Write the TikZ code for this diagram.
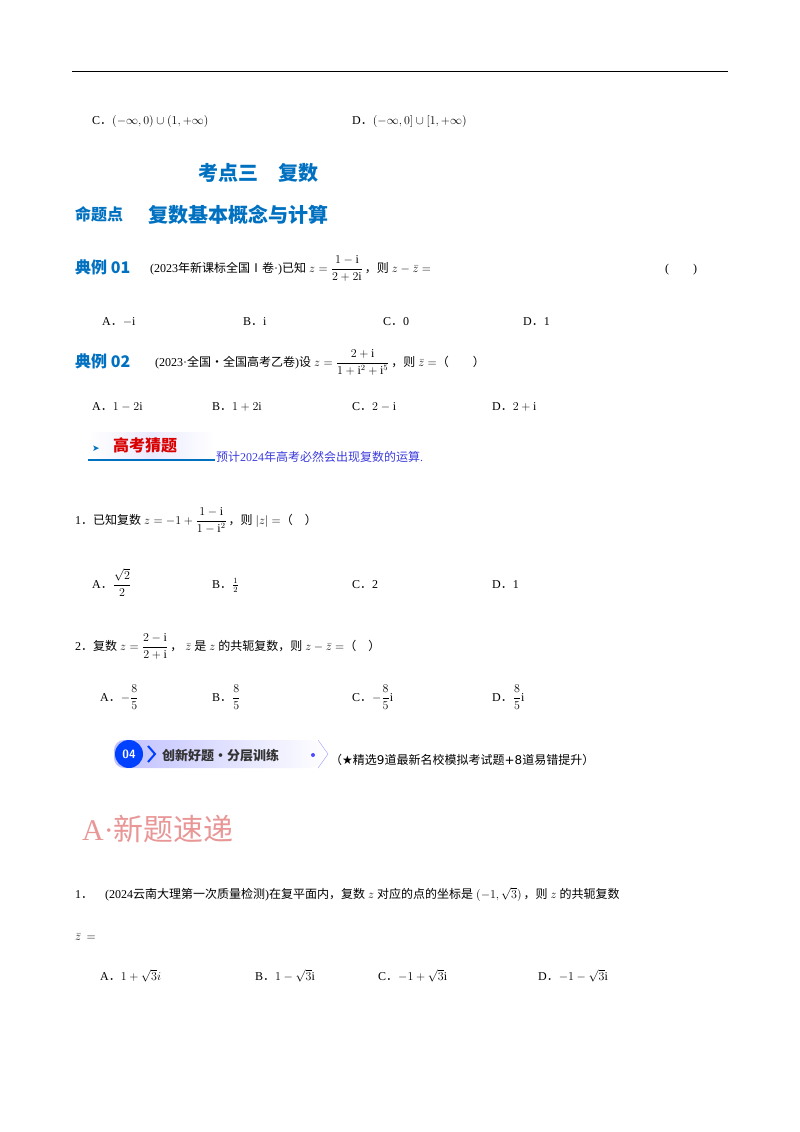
\documentclass[tikz,border=0pt]{standalone}
\usepackage{fontspec}
\usepackage{amsmath}
\setmainfont{Liberation Serif}
\newfontfamily\cjk{Noto Sans CJK SC}
\newfontfamily\djv{DejaVu Sans}
\definecolor{tblue}{RGB}{0,112,192}
\definecolor{pinkred}{RGB}{232,150,150}
\definecolor{gblue}{RGB}{60,60,220}
\tikzset{t/.style={anchor=base west,inner sep=0pt,font=\fontsize{12}{14}\selectfont},
hd/.style={anchor=base west,inner sep=0pt,text=tblue,font=\fontsize{16}{18}\selectfont\cjk\bfseries}}
\newcommand{\zh}[1]{{\cjk #1}}
\newcommand{\fd}{{\cjk ．}}
\begin{document}
\begin{tikzpicture}[x=1pt,y=-1pt]
\useasboundingbox (0,0) rectangle (800,1132);
\draw[line width=1pt] (72,72) -- (728,72);
\node[t] (c1) at (92,124) {C\fd$(-\infty,0)\cup(1,+\infty)$};
\node[t] (d1) at (352,124) {D\fd$(-\infty,0]\cup[1,+\infty)$};
\node[hd,font=\fontsize{20}{22}\selectfont\cjk\bfseries] (k3) at (198,180) {考点三\quad 复数};
\node[hd] (mt) at (75,220) {命题点};
\node[hd,font=\fontsize{20}{22}\selectfont\cjk\bfseries] (mt2) at (148,222) {复数基本概念与计算};
\node[hd] (e1) at (75,273) {典例 01};
\node[t] (e1t) at (150,272) {(2023\zh{年新课标全国Ⅰ卷}·)\zh{已知} $z=\dfrac{1-\mathrm i}{2+2\mathrm i}$\,\zh{，则} $z-\bar z=$};
\node[t] (e1p) at (665,272) {(\qquad)};
\node[t] (a1) at (102,325) {A\fd$-\mathrm i$};
\node[t] (b1) at (243,325) {B\fd$\mathrm i$};
\node[t] (cc1) at (383,325) {C\fd 0};
\node[t] (dd1) at (523,325) {D\fd 1};
\node[hd] (e2) at (75,367) {典例 02};
\node[t] (e2t) at (155,366) {(2023·\zh{全国·全国高考乙卷})\zh{设} $z=\dfrac{2+\mathrm i}{1+\mathrm i^2+\mathrm i^5}$\,\zh{，则} $\bar z=$\zh{（\qquad）}};
\node[t] (a2) at (92,410) {A\fd$1-2\mathrm i$};
\node[t] (b2) at (212,410) {B\fd$1+2\mathrm i$};
\node[t] (c2) at (352,410) {C\fd$2-\mathrm i$};
\node[t] (d2) at (492,410) {D\fd$2+\mathrm i$};
% banner
\fill[left color=white,right color=white,middle color=blue!8] (88,432) rectangle (215,460);
\draw[tblue,line width=1.2pt] (88,460) -- (215,460);
\node[anchor=base west,inner sep=0pt,text=tblue] (arr) at (92,451) {\djv\small ➤};
\node[anchor=base west,inner sep=0pt,text=red!85!black,font=\fontsize{16}{18}\selectfont\cjk\bfseries] (gk) at (113,451) {高考猜题};
\node[t,text=gblue] (gkt) at (216,461) {\zh{预计}2024\zh{年高考必然会出现复数的运算}.};
\node[t] (q1) at (75,524) {1\fd\zh{已知复数} $z=-1+\dfrac{1-\mathrm i}{1-\mathrm i^2}$\,\zh{，则} $|z|=$\zh{（\quad）}};
\node[t] (qa1) at (92,588) {A\fd$\dfrac{\sqrt2}{2}$};
\node[t] (qb1) at (212,588) {B\fd$\frac12$};
\node[t] (qc1) at (352,588) {C\fd 2};
\node[t] (qd1) at (492,588) {D\fd 1};
\node[t] (q2) at (75,650) {2\fd\zh{复数} $z=\dfrac{2-\mathrm i}{2+\mathrm i}$\,\zh{，} $\bar z$ \zh{是} $z$ \zh{的共轭复数，则} $z-\bar z=$\zh{（\quad）}};
\node[t] (qa2) at (100,701) {A\fd$-\dfrac85$};
\node[t] (qb2) at (212,701) {B\fd$\dfrac85$};
\node[t] (qc2) at (352,701) {C\fd$-\dfrac85\mathrm i$};
\node[t] (qd2) at (492,701) {D\fd$\dfrac85\mathrm i$};
% 04 banner
\shade[left color=blue!25,right color=white,rounded corners=10pt] (114,740) -- (318,740) -- (328,754) -- (318,768) -- (114,768) -- cycle;
\draw[blue!40] (318,740) -- (328,754) -- (318,768);
\fill[blue!75!cyan] (129,754) circle (14);
\node[text=white,font=\bfseries\sffamily\large] (n04) at (129,754) {04};
\draw[blue!75!cyan,line width=2pt] (148,746) -- (155,754) -- (148,762);
\node[anchor=base west,inner sep=0pt,font=\fontsize{13}{15}\selectfont\cjk\bfseries,text=black!80] (cx) at (162,760) {创新好题•分层训练};
\fill[blue!70] (313,755) circle (2);
\node[t] (jx) at (330,764) {\zh{（}\djv ★\zh{精选}9\zh{道最新名校模拟考试题}+8\zh{道易错提升）}};
\node[anchor=base west,inner sep=0pt,text=pinkred,font=\fontsize{30}{32}\selectfont] (A) at (82,840) {A·\zh{新题速递}};
\node[t] (p1) at (75,898) {1\fd\quad(2024\zh{云南大理第一次质量检测})\zh{在复平面内，复数} $z$ \zh{对应的点的坐标是} $(-1,\sqrt3)$\,\zh{，则} $z$ \zh{的共轭复数}};
\node[t] (p1b) at (75,940) {$\bar z\,=$};
\node[t] (pa) at (100,980) {A\fd$1+\sqrt3 i$};
\node[t] (pb) at (255,980) {B\fd$1-\sqrt3\mathrm i$};
\node[t] (pc) at (378,980) {C\fd$-1+\sqrt3\mathrm i$};
\node[t] (pd) at (538,980) {D\fd$-1-\sqrt3\mathrm i$};
\end{tikzpicture}
\end{document}
